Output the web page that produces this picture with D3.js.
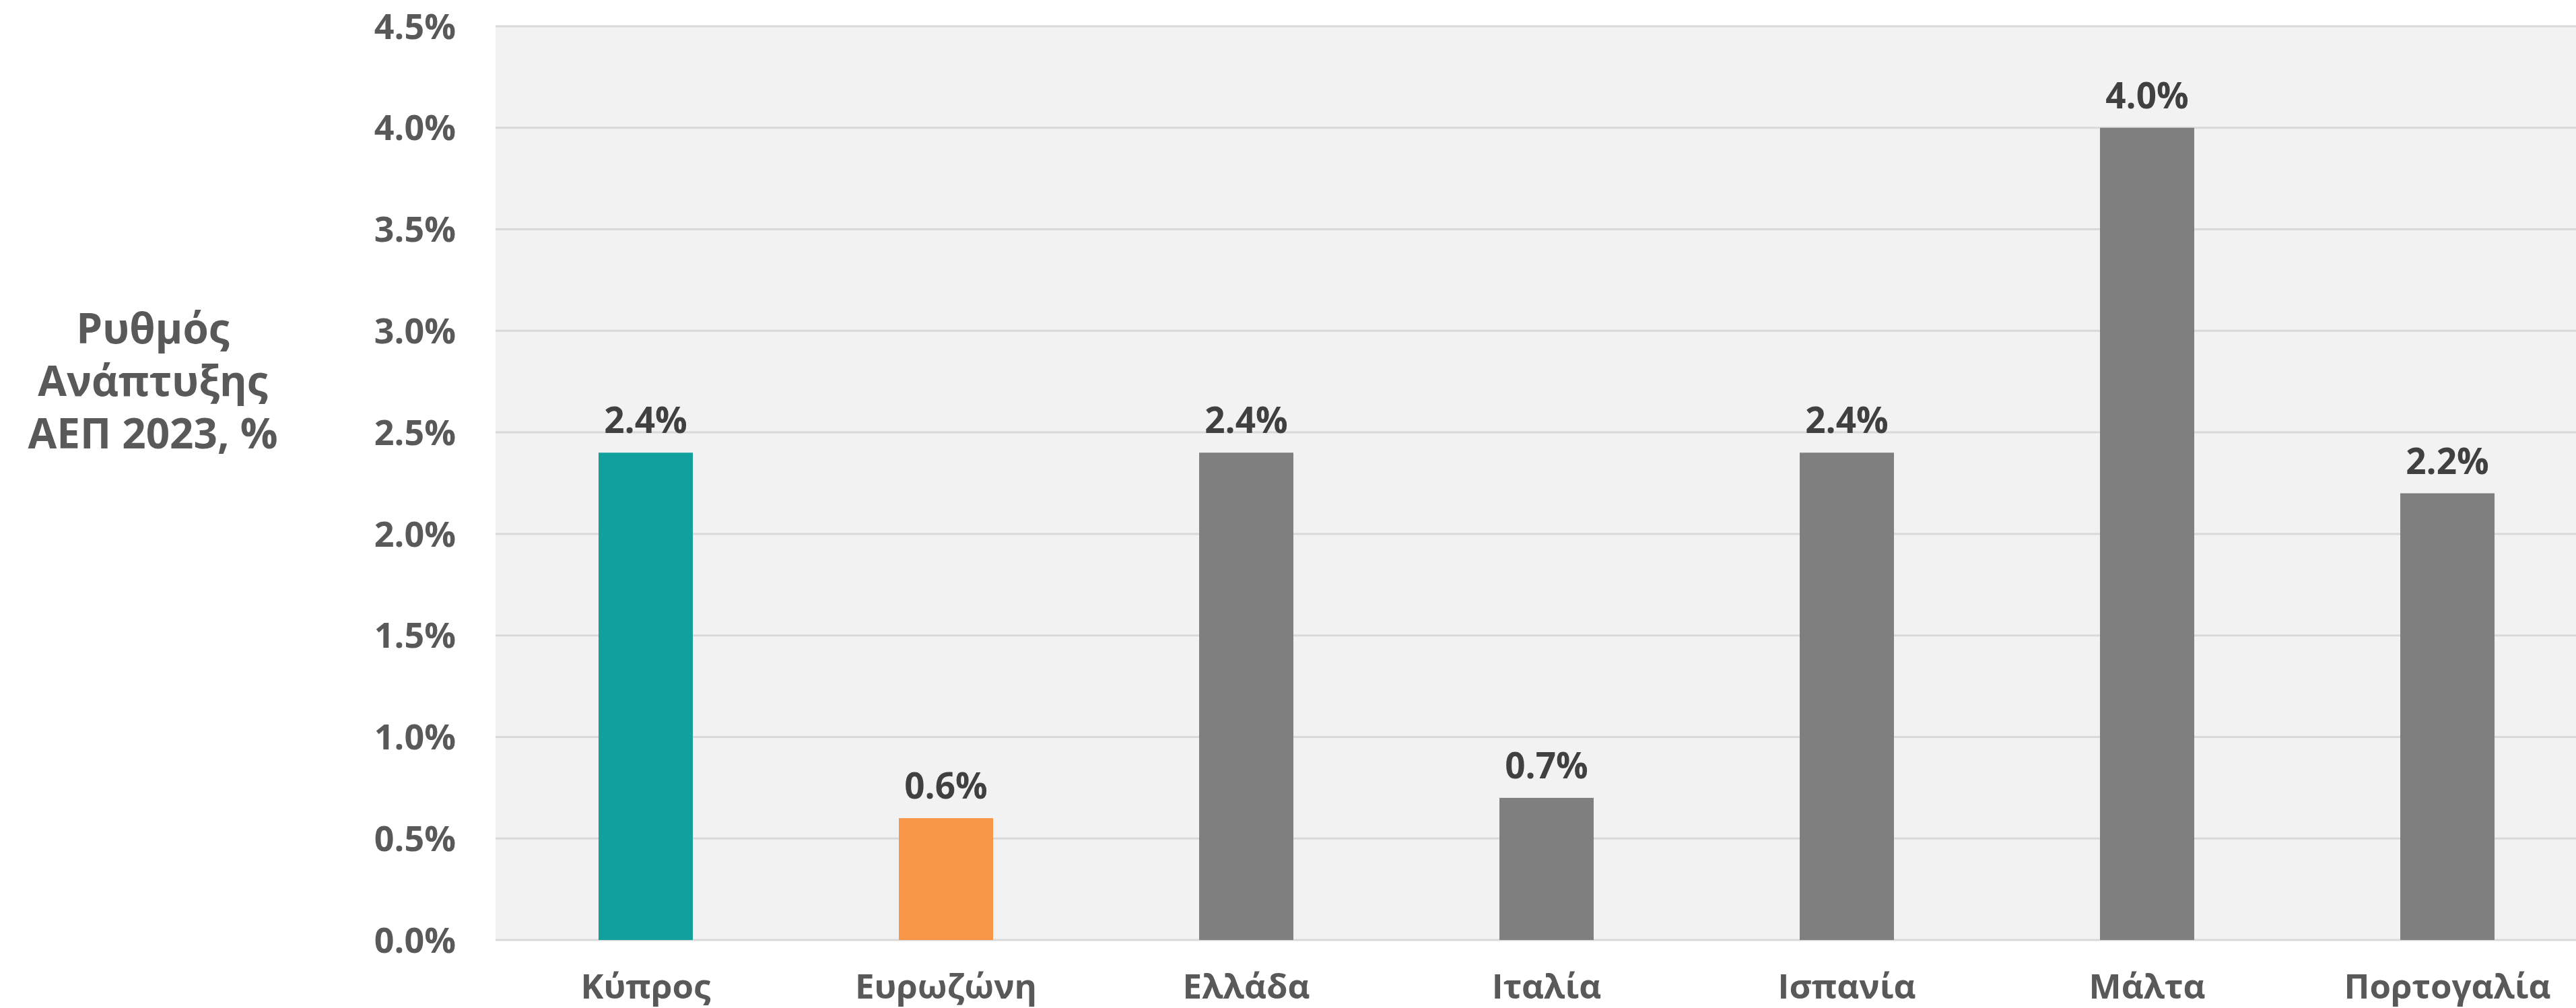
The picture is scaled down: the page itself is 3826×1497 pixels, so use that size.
<!DOCTYPE html>
<html>
<head>
<meta charset="utf-8">
<script src="https://cdn.jsdelivr.net/npm/d3@7"></script>
<style>
  html, body { margin: 0; padding: 0; background: #ffffff; }
  svg { display: block; }
</style>
</head>
<body>
<svg id="chart" width="3826" height="1497"></svg>
<script>
// ---- data ----
const categories = ["Κύπρος", "Ευρωζώνη", "Ελλάδα", "Ιταλία", "Ισπανία", "Μάλτα", "Πορτογαλία"];
const values = [2.4, 0.6, 2.4, 0.7, 2.4, 4.0, 2.2];
const barColors = ["#12a09f", "#f79646", "#7f7f7f", "#7f7f7f", "#7f7f7f", "#7f7f7f", "#7f7f7f"];
const yTicks = [0, 0.5, 1.0, 1.5, 2.0, 2.5, 3.0, 3.5, 4.0, 4.5];
const yTitleLines = ["Ρυθμός", "Ανάπτυξης", "ΑΕΠ 2023, %"];

// ---- layout ----
const W = 3826, H = 1497;
const plotLeft = 736, plotTop = 39, plotBottom = 1396;
const font = "'Open Sans', 'Noto Sans', sans-serif";

const svg = d3.select("#chart");

const y = d3.scaleLinear().domain([0, 4.5]).range([plotBottom, plotTop]);
const pi = 1 - 140 / 446;
const x = d3.scaleBand().domain(categories)
  .range([plotLeft, plotLeft + 446 * 7])
  .paddingInner(pi).paddingOuter(pi / 2);

// plot background
svg.append("rect")
  .attr("x", plotLeft).attr("y", plotTop)
  .attr("width", W - plotLeft).attr("height", plotBottom - plotTop)
  .attr("fill", "#f2f2f2");

// gridlines
svg.append("g").selectAll("line").data(yTicks).join("line")
  .attr("x1", plotLeft).attr("x2", W)
  .attr("y1", d => y(d)).attr("y2", d => y(d))
  .attr("stroke", "#d9d9d9").attr("stroke-width", 3);

// y axis labels
const yAxis = d3.axisLeft(y).tickValues(yTicks).tickSize(0).tickPadding(0)
  .tickFormat(d => d3.format(".1f")(d) + "%");
const gy = svg.append("g").attr("transform", `translate(677,0)`).call(yAxis);
gy.select(".domain").remove();
gy.selectAll("text")
  .attr("font-family", font).attr("font-weight", 700)
  .attr("font-size", 52).attr("fill", "#595959")
  .attr("dy", "0.35em");

// bars
svg.append("g").selectAll("rect").data(values).join("rect")
  .attr("x", (d, i) => x(categories[i]))
  .attr("y", d => y(d))
  .attr("width", x.bandwidth())
  .attr("height", d => y(0) - y(d))
  .attr("fill", (d, i) => barColors[i]);

// data labels
svg.append("g").selectAll("text").data(values).join("text")
  .attr("x", (d, i) => x(categories[i]) + x.bandwidth() / 2)
  .attr("y", d => y(d) - 29)
  .attr("text-anchor", "middle")
  .attr("font-family", font).attr("font-weight", 700)
  .attr("font-size", 53).attr("fill", "#404040")
  .text(d => d3.format(".1f")(d) + "%");

// x axis labels
const xAxis = d3.axisBottom(x).tickSize(0).tickPadding(0);
const gx = svg.append("g").attr("transform", `translate(0,1483)`).call(xAxis);
gx.select(".domain").remove();
gx.selectAll("text")
  .attr("font-family", font).attr("font-weight", 700)
  .attr("font-size", 51).attr("fill", "#595959")
  .attr("dy", 0);

// y title
svg.append("text")
  .attr("x", 227).attr("y", 510)
  .attr("text-anchor", "middle")
  .attr("font-family", font).attr("font-weight", 700)
  .attr("font-size", 62).attr("fill", "#595959")
  .selectAll("tspan").data(yTitleLines).join("tspan")
  .attr("x", 227).attr("dy", (d, i) => i === 0 ? 0 : 78)
  .text(d => d);
</script>
</body>
</html>
